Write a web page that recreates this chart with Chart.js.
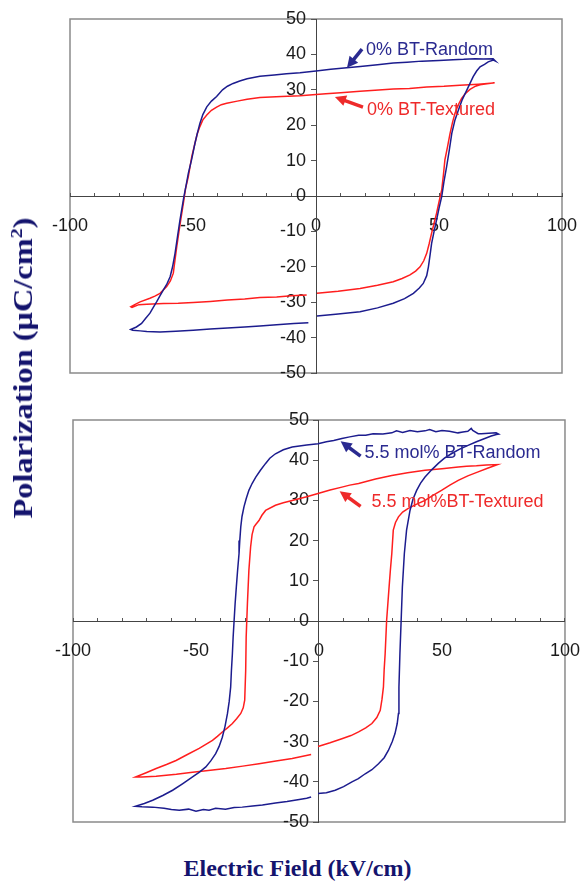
<!DOCTYPE html>
<html>
<head>
<meta charset="utf-8">
<title>P-E Hysteresis Loops</title>
<script src="https://cdn.jsdelivr.net/npm/chart.js@4.4.1/dist/chart.umd.min.js"></script>
<style>
  html, body { margin: 0; padding: 0; background: #fff; overflow: hidden; }
  body { width: 585px; height: 886px; position: relative; }
  canvas { position: absolute; left: 0; }
  #topChart { top: 0; }
  #bottomChart { top: 400px; }
  .axis-title {
    position: absolute;
    font-family: "Liberation Serif", "Times New Roman", serif;
    font-weight: bold;
    color: #14146e;
    white-space: nowrap;
  }
  .axis-title sup { font-size: 0.62em; }
  #xTitle { left: 5px; width: 585px; text-align: center; top: 855px; font-size: 24px; }
  #yTitle { left: 23px; top: 368px; font-size: 27px; transform: translate(-50%, -50%) rotate(-90deg) scaleX(1.2); }
</style>
</head>
<body>
<canvas id="topChart" width="585" height="395"></canvas>
<canvas id="bottomChart" width="585" height="450"></canvas>
<div class="axis-title" id="yTitle">Polarization (&mu;C/cm<sup>2</sup>)</div>
<div class="axis-title" id="xTitle">Electric Field (kV/cm)</div>

<script>
// Series names
var topNames = ['0% BT-Random', '0% BT-Textured'];
var bottomNames = ['5.5 mol% BT-Random', '5.5 mol%BT-Textured'];

// 0% BT, random: field (kV/cm) and polarization (uC/cm2)
var topRandomE = [0.4, 8, 17.9, 25, 31.4, 36, 39.6, 42, 43.6, 45, 45.7, 46.4, 47, 48, 49, 50, 51.1, 52, 53.1, 54.2, 55.2, 56.5, 57.9, 59.5, 61.3, 62.6, 63.9, 65.3, 66.7, 68.5, 70, 72.1, 73,
  72, 68, 64.7, 60, 55.7, 50, 43, 37, 31.4, 25, 18, 12.5, 6, 0, -6.5, -12, -17, -22.8, -28, -31, -33.7, -36, -38, -40.4, -42.5, -44.4, -46, -47.2, -48.3, -49.2, -50.5, -51.9, -52.8, -53.7, -54.5, -55.3, -56.3, -57.3, -58.3, -59.3, -60.7, -62.1, -63.5, -64.8, -66.2, -67.5, -69.3, -70.9, -73, -75.3,
  -74.5, -71.5, -68.8, -63.4, -57, -49.9, -43, -36, -29, -22.8, -16, -9, -3.1];
var topRandomP = [-33.9, -33.4, -32.7, -31.6, -30.3, -29, -27.5, -26, -24.7, -22.5, -20, -16.5, -13.4, -10, -6.8, -3.5, -0.2, 4, 8.3, 13, 17.7, 21.5, 24.3, 27.3, 29.9, 31.8, 33.7, 35.3, 36.5, 37.2, 37.9, 38.4, 38.1,
  38.8, 38.7, 38.8, 38.6, 38.5, 38.3, 38.1, 37.8, 37.6, 37.1, 36.6, 36.2, 35.8, 35.3, 34.8, 34.5, 34.2, 33.8, 33.1, 32.5, 31.8, 31, 30, 28.1, 26.8, 25.2, 23, 20.5, 17.5, 14.9, 10.5, 6.4, 3, -0.2, -3.5, -6.8, -11.5, -16.2, -20, -22.8, -25, -26.6, -28.3, -29.9, -31.5, -33.1, -34.6, -36, -37, -37.7,
  -37.9, -38.1, -38.3, -38.4, -38.2, -37.9, -37.6, -37.3, -37, -36.7, -36.4, -36, -35.8];

// 0% BT, textured
var topTexturedE = [0.4, 9, 17.9, 25, 31.4, 35, 38.2, 40.5, 42.3, 43.8, 45, 46, 47, 48, 49, 50, 51.1, 51.8, 52.4, 53.5, 54.5, 55.5, 56.5, 57.8, 59.2, 60.8, 62.6, 64.5, 66.7, 69.5, 72.6,
  72, 66, 58.5, 52, 45, 38, 31.4, 24, 17.9, 10, 4, 0, -6.5, -14, -22.8, -28, -32, -36.3, -38.5, -40.4, -42.5, -44.4, -46, -47.2, -48.3, -49.2, -50.5, -51.9, -53, -53.7, -55, -55.8, -56.6, -57.3, -58, -59.2, -60.7, -63.4, -65.5, -67.5, -71.5, -73.5, -75.3,
  -74.8, -72, -68.8, -62, -56, -49.9, -43, -36, -29, -22.8, -16, -10, -3.8];
var topTexturedP = [-27.5, -26.9, -26.1, -25.2, -24.2, -23.3, -22.3, -21.2, -20, -18.3, -16.2, -13.5, -10.5, -7.7, -4.9, -1.7, 1.7, 6, 10.2, 14, 17.7, 20.8, 23.4, 25.7, 27.6, 29, 30.1, 30.9, 31.4, 31.7, 32,
  31.9, 31.6, 31.3, 31, 30.8, 30.4, 30.2, 29.9, 29.6, 29.2, 28.9, 28.7, 28.3, 28.1, 27.8, 27.3, 26.8, 26.2, 25.8, 25.1, 24.2, 22.9, 21.5, 19.6, 17.5, 14.9, 11.1, 5.5, 2.2, -1.1, -6.8, -10.5, -14.3, -18, -21.8, -24, -25.6, -27.5, -28.3, -28.9, -29.9, -30.6, -31.3,
  -31.5, -30.7, -30.6, -30.4, -30.3, -30.1, -29.8, -29.4, -29.1, -28.7, -28.5, -28.2, -28];

// 5.5 mol% BT, random
var bottomRandomE = [-0.4, 3, 6.6, 10, 13.4, 16, 18.8, 21.5, 24.2, 26.5, 28.2, 29.8, 30.9, 31.8, 32.3, 32.5, 32.9, 33.4, 33.9, 34.7, 35.6, 37, 38.2, 39.7, 41.3, 43.1, 45.8, 48.5, 51, 53.8, 57, 60.6, 64, 67.4, 70, 72.1, 73,
  72, 69, 66, 64.7, 62.5, 61.9, 60.5, 58.5, 56.5, 53, 50, 47.5, 45, 43.1, 40, 37, 34, 31.5, 29.6, 26, 22, 19, 16.1, 12.5, 9.3, 6, 3, -0.4, -5, -10.9, -14.5, -17.7, -20, -21.7, -23.8, -25.7, -27.2, -28.5, -29.6, -30.5, -31.3, -31.8, -32.2, -32.5, -33.1, -33.6, -34.1, -34.5, -34.9, -35.2, -35.6, -35.9, -36.5, -37.2, -38.2, -39.3, -40.6, -42, -44, -46, -48.6, -51.4, -55.5, -59.5, -63.5, -67.6, -71, -74.6,
  -72, -67.6, -63, -60, -56.8, -53, -50, -47, -44.7, -42, -38, -34.5, -31.2, -27, -23, -17.7, -13, -8, -5, -3.2];
var bottomRandomP = [-42.9, -42.7, -42.1, -41.2, -40, -39.2, -38, -37, -35.5, -34, -32.2, -30, -28, -25.5, -23, -16.4, -8.1, 0.2, 8.5, 16.8, 22.6, 27.5, 30.3, 32.5, 34.3, 35.8, 37.6, 39.2, 40.5, 41.6, 42.7, 43.7, 44.6, 45.4, 46, 46.4, 46.5,
  46.8, 46.7, 46.6, 46.6, 47.4, 47.9, 47.2, 47, 46.8, 47.2, 47.4, 47.1, 47.6, 47.3, 47.1, 47.4, 46.9, 47.3, 46.8, 46.5, 46.6, 46.2, 46.2, 45.8, 45.4, 44.9, 44.6, 44.1, 43.8, 43.3, 42.6, 41.6, 40.5, 39.2, 37.5, 35.8, 34.2, 32.5, 30.4, 28.4, 26, 23.4, 20, 16.8, 12.5, 8.5, 4.3, 0.2, -4, -8.1, -12.3, -16.4, -20, -23, -26.2, -28.9, -31.2, -33, -34.8, -36.3, -37.6, -38.8, -40.5, -42.1, -43.4, -44.6, -45.4, -46.1,
  -46.2, -46.3, -46.6, -46.9, -47.1, -46.8, -47.3, -46.9, -47.1, -46.6, -46.8, -46.4, -46.3, -46, -45.8, -45.3, -44.9, -44.4, -44.1, -43.8];

// 5.5 mol% BT, textured
var bottomTexturedE = [-0.4, 4.5, 9.3, 13, 16.1, 19, 21.5, 23.5, 24.9, 25.6, 26.2, 26.5, 26.9, 27.5, 28.5, 29, 29.6, 30.2, 31.1, 32.3, 34, 36.3, 39.5, 43.1, 46.5, 49.8, 53.2, 56.6, 60.5, 64.7, 68.5, 72.5,
  68, 64, 60, 56.6, 50, 43.1, 36, 29.6, 23, 16.1, 12.5, 9.3, 4.5, -0.4, -5, -10.9, -14.5, -17.7, -21.7, -23.2, -24.4, -25.7, -26.4, -27.2, -27.8, -28.5, -29.1, -29.6, -29.8, -30.2, -30.8, -31.8, -33.5, -35.2, -37.2, -39.3, -41.3, -43.3, -46, -48.7, -53.5, -58.1, -62, -66.2, -70.5, -74.6,
  -72, -66.2, -58, -51.4, -45, -37.9, -31, -24.4, -17.5, -10.9, -3.2];
var bottomTexturedP = [-31.2, -30.3, -29.3, -28.5, -27.6, -26.6, -25.5, -24, -22.2, -19.5, -16.4, -12, -8.1, 0.2, 8.5, 12.5, 16.8, 22.6, 24.5, 25.9, 27.1, 28, 29, 30, 31.3, 32.5, 33.8, 35, 36.1, 37.1, 38, 38.9,
  38.8, 38.6, 38.5, 38.3, 37.9, 37.5, 36.9, 36.2, 35.3, 34.2, 33.8, 33.3, 32.6, 31.7, 30.9, 30, 29.4, 28.8, 27.5, 26.3, 25, 24, 23.4, 21.5, 18.4, 12.6, 4.3, -4, -12.3, -19.7, -21.6, -23, -24.3, -25.5, -26.6, -27.6, -28.7, -29.7, -30.7, -31.7, -33.2, -34.7, -35.7, -36.7, -37.8, -38.8,
  -38.8, -38.6, -38.1, -37.6, -37.2, -36.7, -36.1, -35.5, -34.8, -34.2, -33.2];

var randomColor = '#1c1c8e';
var texturedColor = '#ff1e1e';

// Pair field and polarization arrays into x/y points
function toPoints(e, p) {
    return e.map(function(v, i) {
        return { x: v, y: p[i] };
    });
}

// Gray frame round the plot area
var plotBox = {
    id: 'plotBox',
    beforeDraw: function(chart) {
        var a = chart.chartArea;
        var ctx = chart.ctx;
        ctx.save();
        ctx.strokeStyle = '#8a8a8a';
        ctx.lineWidth = 1.5;
        ctx.strokeRect(a.left, a.top, a.right - a.left, a.bottom - a.top);
        ctx.restore();
    }
};

// Text labels with a short arrow pointing at their loop
function makeNotes(items) {
    return {
        id: 'loopNotes',
        afterDatasetsDraw: function(chart) {
            var xs = chart.scales.x, ys = chart.scales.y, ctx = chart.ctx;
            items.forEach(function(n) {
                var tx = xs.getPixelForValue(n.tail[0]), ty = ys.getPixelForValue(n.tail[1]);
                var hx = xs.getPixelForValue(n.head[0]), hy = ys.getPixelForValue(n.head[1]);
                var ang = Math.atan2(hy - ty, hx - tx);
                var c = Math.cos(ang), s = Math.sin(ang);
                ctx.save();
                ctx.strokeStyle = n.color;
                ctx.fillStyle = n.color;
                ctx.lineWidth = 3.5;
                ctx.beginPath();
                ctx.moveTo(tx, ty);
                ctx.lineTo(hx - 7 * c, hy - 7 * s);
                ctx.stroke();
                ctx.beginPath();
                ctx.moveTo(hx, hy);
                ctx.lineTo(hx - 11 * c + 5.5 * s, hy - 11 * s - 5.5 * c);
                ctx.lineTo(hx - 11 * c - 5.5 * s, hy - 11 * s + 5.5 * c);
                ctx.closePath();
                ctx.fill();
                ctx.font = '18px "Liberation Sans", Arial, sans-serif';
                ctx.textAlign = 'left';
                ctx.textBaseline = 'middle';
                ctx.fillText(n.text, xs.getPixelForValue(n.at[0]), ys.getPixelForValue(n.at[1]));
                ctx.restore();
            });
        }
    };
}

// Axes cross at the origin, Excel style.
// A tall line height pushes the x labels down without a big tick padding,
// which would otherwise eat into the plot width.
function makeScales() {
    var tickFont = { family: '"Liberation Sans", Arial, sans-serif', size: 18 };
    return {
        x: {
            type: 'linear',
            min: -100,
            max: 100,
            position: { y: 0 },
            ticks: {
                stepSize: 10,
                autoSkip: false,
                maxRotation: 0,
                padding: 5,
                color: '#1a1a1a',
                font: { family: tickFont.family, size: 18, lineHeight: 3.2 },
                callback: function(v) { return v % 50 === 0 ? String(v) : ''; }
            },
            grid: { drawOnChartArea: false, tickLength: -4, tickColor: '#555' },
            border: { color: '#444', width: 1 }
        },
        y: {
            type: 'linear',
            min: -50,
            max: 50,
            position: { x: 0 },
            ticks: {
                stepSize: 10,
                color: '#1a1a1a',
                font: tickFont,
                callback: function(v) { return v + '  '; }
            },
            grid: { drawOnChartArea: false, tickLength: 5, tickColor: '#555' },
            border: { color: '#444', width: 1 }
        }
    };
}

function makeChart(id, names, series, pad, notes) {
    var ctx = document.getElementById(id).getContext('2d');
    return new Chart(ctx, {
        type: 'scatter',
        data: {
            datasets: [
                { label: names[0], data: toPoints(series[0], series[1]), borderColor: randomColor },
                { label: names[1], data: toPoints(series[2], series[3]), borderColor: texturedColor }
            ].map(function(d) {
                d.showLine = true;
                d.pointRadius = 0;
                d.borderWidth = 1.5;
                d.fill = false;
                return d;
            })
        },
        options: {
            responsive: false,
            animation: false,
            layout: { padding: pad },
            scales: makeScales(),
            plugins: { legend: { display: false }, tooltip: { enabled: false } }
        },
        plugins: [plotBox, makeNotes(notes)]
    });
}

makeChart('topChart', topNames,
    [topRandomE, topRandomP, topTexturedE, topTexturedP],
    { left: 70, right: 23, top: 19, bottom: 22 },
    [
        { text: topNames[0], color: '#2a2a90', at: [20.3, 41.2], tail: [18.7, 41.5], head: [12.6, 36.2] },
        { text: topNames[1], color: '#ee2a2a', at: [20.7, 24.3], tail: [19.1, 25.1], head: [7.7, 28.0] }
    ]);

makeChart('bottomChart', bottomNames,
    [bottomRandomE, bottomRandomP, bottomTexturedE, bottomTexturedP],
    { left: 73, right: 18, top: 20, bottom: 28 },
    [
        { text: bottomNames[0], color: '#2a2a90', at: [18.5, 41.7], tail: [16.9, 41.0], head: [8.8, 44.7] },
        { text: bottomNames[1], color: '#ee2a2a', at: [21.3, 29.5], tail: [16.9, 28.5], head: [8.4, 32.3] }
    ]);
</script>
</body>
</html>
